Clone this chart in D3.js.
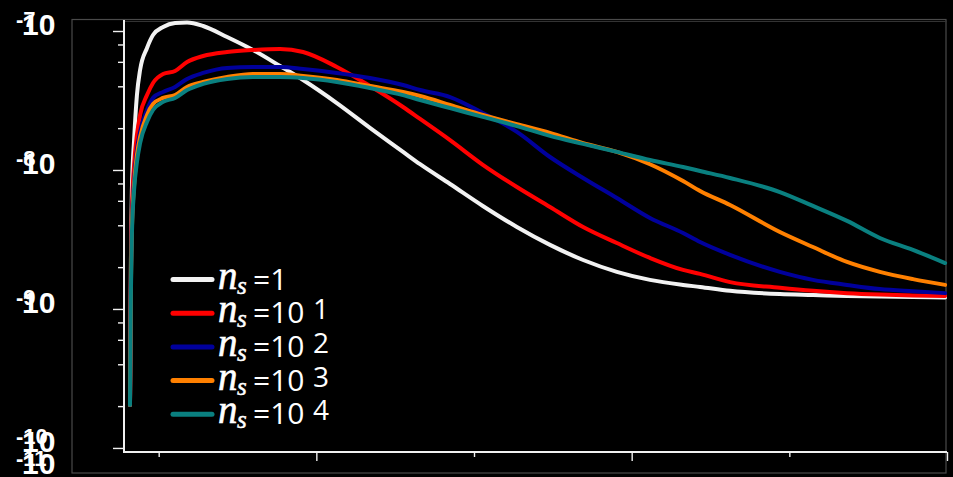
<!DOCTYPE html>
<html>
<head>
<meta charset="utf-8">
<script src="https://cdn.jsdelivr.net/npm/d3@7"></script>
<style>
  html, body { margin: 0; padding: 0; background: #000; }
  svg { display: block; }
</style>
</head>
<body>
<script>
// ---------------- data ----------------
const xValues = [4.09, 4.12, 4.15, 4.22, 4.31, 4.41, 4.63, 4.82, 5.14, 5.52, 5.90, 6.41, 7.17, 7.99, 8.85, 9.58,
  10.65, 11.70, 12.75, 13.29, 14.24, 15.28, 16.36, 17.41, 18.46, 19.53, 20.58, 21.63, 22.17, 23.12, 24.70, 25.75,
  26.83, 27.87, 28.92, 29.94];

const ns1 = [2.04e-10, 2.25e-9, 7.18e-9, 1.64e-8, 3.46e-8, 5.24e-8, 7.55e-8, 9.36e-8, 1.069e-7, 1.142e-7, 1.151e-7,
  1.086e-7, 9.05e-8, 7.30e-8, 5.60e-8, 4.44e-8, 3.03e-8, 2.01e-8, 1.35e-8, 1.10e-8, 7.93e-9, 5.51e-9, 3.89e-9,
  2.89e-9, 2.25e-9, 1.85e-9, 1.62e-9, 1.49e-9, 1.44e-9, 1.35e-9, 1.28e-9, 1.26e-9, 1.24e-9, 1.23e-9, 1.22e-9, 1.21e-9];

const ns10 = [2.04e-10, 1.91e-9, 5.16e-9, 1.09e-8, 1.79e-8, 2.49e-8, 3.46e-8, 4.23e-8, 4.91e-8, 5.16e-8, 5.98e-8,
  6.61e-8, 7.06e-8, 7.30e-8, 7.42e-8, 7.06e-8, 5.51e-8, 4.02e-8, 2.84e-8, 2.33e-8, 1.64e-8, 1.09e-8, 7.54e-9,
  5.42e-9, 3.89e-9, 2.98e-9, 2.33e-9, 1.91e-9, 1.79e-9, 1.56e-9, 1.42e-9, 1.35e-9, 1.30e-9, 1.27e-9, 1.25e-9, 1.24e-9];

const ns100 = [2.04e-10, 1.62e-9, 4.02e-9, 8.48e-9, 1.39e-8, 1.88e-8, 2.70e-8, 3.30e-8, 3.64e-8, 3.96e-8, 4.52e-8,
  4.99e-8, 5.42e-8, 5.51e-8, 5.51e-8, 5.33e-8, 4.99e-8, 4.59e-8, 4.09e-8, 3.76e-8, 3.35e-8, 2.57e-8, 1.88e-8,
  1.24e-8, 8.76e-9, 6.29e-9, 4.52e-9, 3.52e-9, 3.03e-9, 2.45e-9, 1.85e-9, 1.62e-9, 1.49e-9, 1.39e-9, 1.34e-9, 1.30e-9];

const ns1000 = [2.04e-10, 1.49e-9, 3.70e-9, 7.80e-9, 1.28e-8, 1.73e-8, 2.49e-8, 2.98e-8, 3.30e-8, 3.46e-8, 3.96e-8,
  4.30e-8, 4.67e-8, 4.91e-8, 4.91e-8, 4.75e-8, 4.44e-8, 4.02e-8, 3.64e-8, 3.41e-8, 2.94e-8, 2.49e-8, 2.14e-8,
  1.85e-8, 1.56e-8, 1.35e-8, 1.10e-8, 8.33e-9, 7.06e-9, 5.60e-9, 3.58e-9, 2.79e-9, 2.18e-9, 1.85e-9, 1.64e-9, 1.49e-9];

const ns10000 = [2.04e-10, 1.37e-9, 3.41e-9, 7.18e-9, 1.14e-8, 1.56e-8, 2.22e-8, 2.70e-8, 3.09e-8, 3.30e-8, 3.76e-8,
  4.16e-8, 4.52e-8, 4.67e-8, 4.67e-8, 4.59e-8, 4.30e-8, 3.89e-8, 3.46e-8, 3.19e-8, 2.79e-8, 2.41e-8, 2.07e-8,
  1.76e-8, 1.54e-8, 1.35e-8, 1.18e-8, 1.05e-8, 9.83e-9, 8.76e-9, 6.94e-9, 5.51e-9, 4.30e-9, 3.24e-9, 2.66e-9, 2.14e-9];

const legendBase = ["=1", "=10", "=10", "=10", "=10"];
const legendSup = ["", "1", "2", "3", "4"];
const seriesColors = ["#f2f2f2", "#ff0000", "#00009c", "#ff8000", "#0a8080"];
const seriesValues = [ns1, ns10, ns100, ns1000, ns10000];

const yTickExponents = [-7, -8, -9, -10];
const yExtraExponent = "-11";
const xMajorTicks = [10, 20, 30];
const xMinorTicks = [5, 15, 25];
const yMinorMantissas = [2, 4, 6, 8];

// ---------------- layout ----------------
const W = 953, H = 477;
const L = 124, R = 947, T = 20, B = 452;

const svg = d3.select("body").append("svg").attr("width", W).attr("height", H)
  .style("background", "#000");

const x = d3.scaleLinear().domain([3.9, 30]).range([L, R]);
const y = d3.scaleLog().domain([9.35e-11, 1.2e-7]).range([B, T]);

// outer frame
svg.append("rect").attr("x", 72).attr("y", 19.5).attr("width", 874).attr("height", 453.5)
  .attr("fill", "none").attr("stroke", "#4a4a4a").attr("stroke-width", 1.2);
svg.append("line").attr("x1", L).attr("x2", R).attr("y1", 21.5).attr("y2", 21.5)
  .attr("stroke", "#333").attr("stroke-width", 1);

// minor y ticks
const yMinor = [];
for (let e = -10; e <= -8; e++) yMinorMantissas.forEach(m => yMinor.push(m * Math.pow(10, e)));

const gy = svg.append("g").attr("transform", `translate(${L},0)`);
gy.call(d3.axisLeft(y).tickValues(yTickExponents.map(e => Math.pow(10, e))).tickSize(11).tickSizeOuter(0).tickFormat(""));
gy.append("g").call(d3.axisLeft(y).tickValues(yMinor).tickSize(6).tickSizeOuter(0).tickFormat(""));
gy.selectAll("path.domain").remove();
gy.selectAll("line").attr("stroke", "#f0f0f0").attr("stroke-width", 1.4);

const gx = svg.append("g").attr("transform", `translate(0,${B})`);
gx.call(d3.axisBottom(x).tickValues(xMajorTicks).tickSize(9).tickSizeOuter(0).tickFormat(""));
gx.append("g").call(d3.axisBottom(x).tickValues(xMinorTicks).tickSize(5).tickSizeOuter(0).tickFormat(""));
gx.selectAll("path.domain").remove();
gx.selectAll("line").attr("stroke", "#f0f0f0").attr("stroke-width", 1.4);

// axis lines
svg.append("line").attr("x1", L).attr("x2", L).attr("y1", T).attr("y2", B + 1)
  .attr("stroke", "#f0f0f0").attr("stroke-width", 2);
svg.append("line").attr("x1", L).attr("x2", R).attr("y1", B).attr("y2", B)
  .attr("stroke", "#f0f0f0").attr("stroke-width", 2);

// y tick labels (10 with overlapping exponent)
function yLabel(py, exp) {
  svg.append("text").attr("x", 22).attr("y", py + 4)
    .attr("font-family", "Liberation Sans, Arial, sans-serif").attr("font-weight", "bold")
    .attr("font-size", 30).attr("fill", "#fff").text("10");
  svg.append("text").attr("x", 16).attr("y", py - 4)
    .attr("font-family", "Liberation Sans, Arial, sans-serif").attr("font-weight", "bold")
    .attr("font-size", 22).attr("fill", "#fff").text(exp);
}
yTickExponents.forEach(e => yLabel(y(Math.pow(10, e)), String(e)));
yLabel(y(Math.pow(10, -10)) + 22, yExtraExponent);

// curves
const line = d3.line().x((d, i) => x(xValues[i])).y(d => y(d)).curve(d3.curveMonotoneX);
seriesValues.forEach((vals, k) => {
  svg.append("path").datum(vals).attr("d", line)
    .attr("fill", "none").attr("stroke", seriesColors[k]).attr("stroke-width", 4)
    .attr("stroke-linejoin", "round").attr("stroke-linecap", "round");
});

// legend
seriesColors.forEach((c, i) => {
  const ly = 279.5 + i * 33.7;
  svg.append("line").attr("x1", 173).attr("x2", 212).attr("y1", ly).attr("y2", ly)
    .attr("stroke", c).attr("stroke-width", 5).attr("stroke-linecap", "round");
  svg.append("text").attr("x", 218).attr("y", ly + 9)
    .attr("font-family", "Liberation Serif, serif").attr("font-style", "italic")
    .attr("font-size", 39).attr("fill", "#fff").attr("stroke", "#fff").attr("stroke-width", 0.6)
    .text("n");
  svg.append("text").attr("x", 237).attr("y", ly + 14)
    .attr("font-family", "Liberation Serif, serif").attr("font-style", "italic")
    .attr("font-size", 25).attr("fill", "#fff").attr("stroke", "#fff").attr("stroke-width", 0.5)
    .text("s");
  svg.append("text").attr("x", 253).attr("y", ly + 10)
    .attr("font-family", "Open Sans, sans-serif")
    .attr("font-size", 30).attr("fill", "#fff").text(legendBase[i]);
  if (legendSup[i]) {
    svg.append("text").attr("x", 313).attr("y", ly + 6)
      .attr("font-family", "Open Sans, sans-serif")
      .attr("font-size", 28).attr("fill", "#fff").text(legendSup[i]);
  }
});
</script>
</body>
</html>
